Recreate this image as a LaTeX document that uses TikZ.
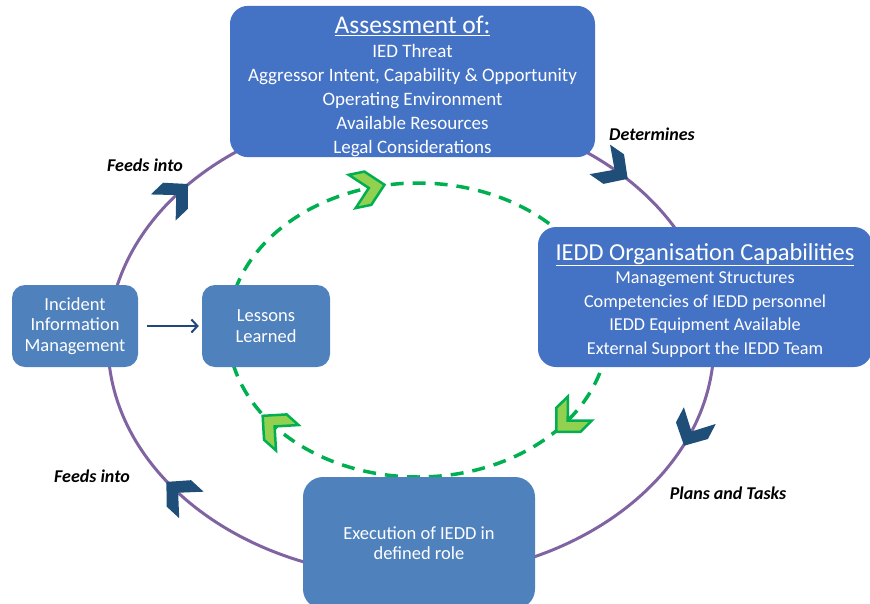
\documentclass[tikz,border=0pt]{standalone}
\usepackage{fontspec}
\setmainfont{Carlito}
\usetikzlibrary{arrows.meta}

\definecolor{boxblue}{HTML}{4472C4}
\definecolor{softblue}{HTML}{4F81BD}
\definecolor{ringpurple}{HTML}{8064A2}
\definecolor{chevblue}{HTML}{1F4E79}
\definecolor{loopgreen}{HTML}{00B050}
\definecolor{chevgreen}{HTML}{92D050}
\definecolor{linkblue}{HTML}{1F497D}

\begin{document}
\begin{tikzpicture}
[
    x=1pt, y=-1pt,
    mainbox/.style={fill=boxblue, rounded corners=18pt, text=white, align=center, inner sep=0pt},
    smallbox/.style={fill=softblue, rounded corners=13pt, text=white, align=center, inner sep=0pt,
        font=\fontsize{18.5}{20.5}\selectfont},
    cue/.style={font=\fontsize{18}{20}\selectfont\bfseries\itshape},
    bluechev/.pic={\fill[chevblue] (-17,-18)--(0,-18)--(17,0)--(0,18)--(-17,18)--(1,0)--cycle;},
    greenchev/.pic={\filldraw[fill=chevgreen, draw=loopgreen, line width=2.5pt]
        (-17,-17)--(-1,-17)--(16,0)--(-1,17)--(-17,17)--(0,0)--cycle;},
]
\useasboundingbox (0,0) rectangle (870,603);
\coordinate (ringc) at (411,343);
\coordinate (loopc) at (418,330);

% outer cycle
\draw[ringpurple, line width=3pt] (ringc) ellipse [x radius=303, y radius=234];
\foreach \t in {312,22,140,219}
    \pic[rotate={atan2(-234*cos(\t),-303*sin(\t))}] at ([shift={(\t:303 and 234)}]ringc) {bluechev};

% inner (learning) cycle
\draw[loopgreen, line width=3.5pt, dash pattern=on 13pt off 9pt] (loopc) ellipse [x radius=190, y radius=147];
\foreach \t in {255,38,139}
    \pic[rotate={atan2(-147*cos(\t),-190*sin(\t))}] at ([shift={(\t:190 and 147)}]loopc) {greenchev};

% boxes
\node[mainbox, minimum width=365pt, minimum height=147pt, font=\fontsize{19}{24}\selectfont]
    (assess) at (412.5,81.5)
    {{\fontsize{25.5}{26}\selectfont\rule{0pt}{28pt}\underline{Assessment of:}}\\
     IED Threat\\
     Aggressor Intent, Capability \& Opportunity\\
     Operating Environment\\
     Available Resources\\
     Legal Considerations};
\node[mainbox, minimum width=334pt, minimum height=140pt, font=\fontsize{18.2}{23.5}\selectfont]
    (capab) at (705,297)
    {{\fontsize{24.4}{26}\selectfont\rule{0pt}{23pt}\underline{IEDD Organisation Capabilities}}\\
     Management Structures\\
     Competencies of IEDD personnel\\
     IEDD Equipment Available\\
     External Support the IEDD Team};
\node[smallbox, minimum width=126pt, minimum height=82pt] (incident) at (75,326)
    {Incident\\Information\\Management};
\node[smallbox, minimum width=128pt, minimum height=82pt] (lessons) at (266,326)
    {Lessons\\Learned};
\node[smallbox, rounded corners=20pt, minimum width=232pt, minimum height=132pt] (execute) at (419,543)
    {Execution of IEDD in\\defined role};

\draw[linkblue, line width=2pt, -{Straight Barb[length=6pt,width=13pt]}, shorten <=9pt, shorten >=3pt]
    (incident) -- (lessons);

% cycle labels
\node[cue] (determines) at (652,134) {Determines};
\node[cue] (plans) at (728,493) {Plans and Tasks};
\node[cue] (feedtop) at (145,165) {Feeds into};
\node[cue] (feedlow) at (92,476) {Feeds into};
\end{tikzpicture}
\end{document}
